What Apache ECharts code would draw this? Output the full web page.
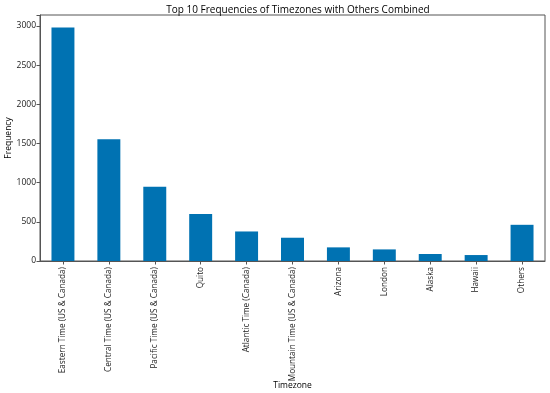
<!DOCTYPE html>
<html>
<head>
<meta charset="utf-8">
<script src="https://cdn.jsdelivr.net/npm/echarts@6/dist/echarts.min.js"></script>
<style>html,body{margin:0;padding:0;background:#fff}#c{width:550px;height:393px}</style>
</head>
<body>
<div id="c"></div>
<script>
const categories = ["Eastern Time (US & Canada)","Central Time (US & Canada)","Pacific Time (US & Canada)","Quito","Atlantic Time (Canada)","Mountain Time (US & Canada)","Arizona","London","Alaska","Hawaii","Others"];
const frequencies = [2982, 1553, 948, 601, 377, 297, 174, 148, 89, 76, 462];
const yTicks = [0, 500, 1000, 1500, 2000, 2500, 3000];

const font = "Open Sans";
const chart = echarts.init(document.getElementById('c'), null, {renderer: 'canvas'});
chart.setOption({
  animation: false,
  title: {
    text: "Top 10 Frequencies of Timezones with Others Combined",
    left: 293, top: 0, textAlign: 'center',
    textStyle: {fontFamily: font, fontSize: 10, fontWeight: 'normal', color: '#000'}
  },
  grid: {left: 40, top: 15, right: 5, bottom: 132, show: true, borderColor: '#555', borderWidth: 1,
    backgroundColor: 'transparent', containLabel: false, outerBoundsMode: 'none'},
  xAxis: {
    type: 'category', data: categories,
    name: 'Timezone', nameLocation: 'middle', nameGap: 120, nameMoveOverlap: false,
    nameTextStyle: {fontFamily: font, fontSize: 8.5, color: '#000'},
    axisLine: {show: true, lineStyle: {color: '#555'}},
    axisTick: {show: true, alignWithLabel: true, length: 3.5, lineStyle: {color: '#555'}},
    axisLabel: {rotate: 90, interval: 0, fontFamily: font, fontSize: 8.2, color: '#222', margin: 6}
  },
  yAxis: {
    type: 'value', min: 0, max: 3140, interval: 500,
    name: 'Frequency', nameLocation: 'middle', nameGap: 27, nameMoveOverlap: false,
    nameTextStyle: {fontFamily: font, fontSize: 8.5, color: '#000'},
    axisLine: {show: true, lineStyle: {color: '#555'}},
    axisTick: {show: true, length: 3.5, lineStyle: {color: '#555'}},
    splitLine: {show: false},
    axisLabel: {fontFamily: font, fontSize: 8.5, color: '#222', margin: 4,
      formatter: v => yTicks.includes(v) ? String(v) : ''}
  },
  series: [{
    type: 'bar', data: frequencies, barWidth: '50%',
    itemStyle: {color: '#0072B2'}
  }]
});
</script>
</body>
</html>
